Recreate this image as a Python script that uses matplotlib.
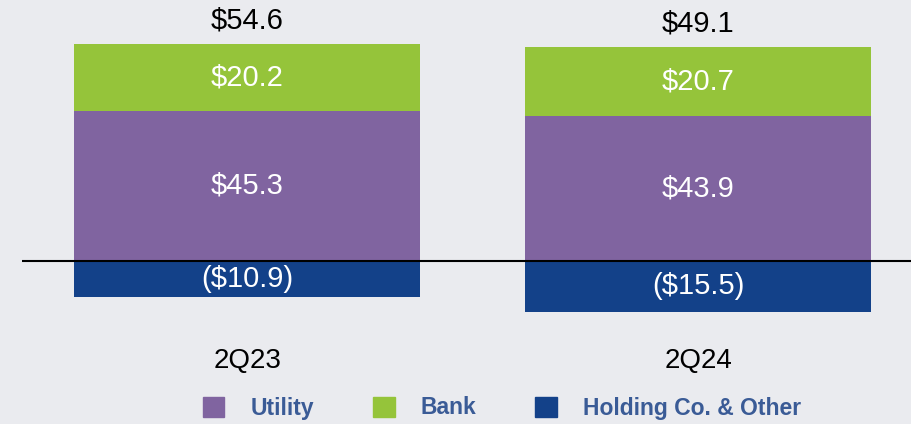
import matplotlib
matplotlib.use('Agg')
import matplotlib.pyplot as plt
from matplotlib.patches import Patch
import numpy as np

plt.rcParams['font.family'] = ['Liberation Sans', 'DejaVu Sans']

# data
quarters = ["2Q23", "2Q24"]
utility = [45.3, 43.9]
bank = [20.2, 20.7]
holding = [-10.9, -15.5]
totals = [54.6, 49.1]

BG = "#eaebef"
C_UTIL = "#8064a0"
C_BANK = "#95c43a"
C_HOLD = "#134189"
C_LEG = "#3a5b96"

fig = plt.figure(figsize=(9.12, 4.24), dpi=100, facecolor=BG)
ax = fig.add_axes([22 / 912, 0, 890 / 912, 1])
ax.set_facecolor(BG)

x = np.arange(len(quarters))
w = 0.767
ax.bar(x, utility, w, color=C_UTIL, linewidth=0)
ax.bar(x, bank, w, bottom=utility, color=C_BANK, linewidth=0)
ax.bar(x, holding, w, color=C_HOLD, linewidth=0)
ax.axhline(0, color="black", linewidth=1.5, zorder=5)

fs = 21
for i in range(len(quarters)):
    ax.text(x[i], utility[i] / 2, f"${utility[i]:.1f}", ha="center", va="center",
            color="white", fontsize=fs)
    ax.text(x[i], utility[i] + bank[i] / 2, f"${bank[i]:.1f}", ha="center", va="center",
            color="white", fontsize=fs)
    ax.text(x[i], holding[i] / 2, f"(${-holding[i]:.1f})", ha="center", va="center",
            color="white", fontsize=fs)
    ax.annotate(f"${totals[i]:.1f}", (x[i], utility[i] + bank[i]), xytext=(0, 17),
                textcoords="offset points", ha="center", va="center",
                color="black", fontsize=fs)
    ax.text(x[i], -30.5, quarters[i], ha="center", va="center", color="black", fontsize=20)

ax.set_xlim(-0.499, 1.474)
ax.set_ylim(-49.5, 78.9)
ax.axis("off")

handles = [Patch(color=C_UTIL, label="Utility"),
           Patch(color=C_BANK, label="Bank"),
           Patch(color=C_HOLD, label="Holding Co. & Other")]
leg = fig.legend(handles=handles, loc="center", bbox_to_anchor=(502 / 912, 1 - 408 / 424),
                 ncol=3, frameon=False, prop={"weight": "bold", "size": 16.5},
                 handlelength=0.95, handleheight=0.95, handletextpad=1.15,
                 columnspacing=2.55, borderpad=0)
for t in leg.get_texts():
    t.set_color(C_LEG)

fig.savefig("out.png", dpi=100, facecolor=BG)
